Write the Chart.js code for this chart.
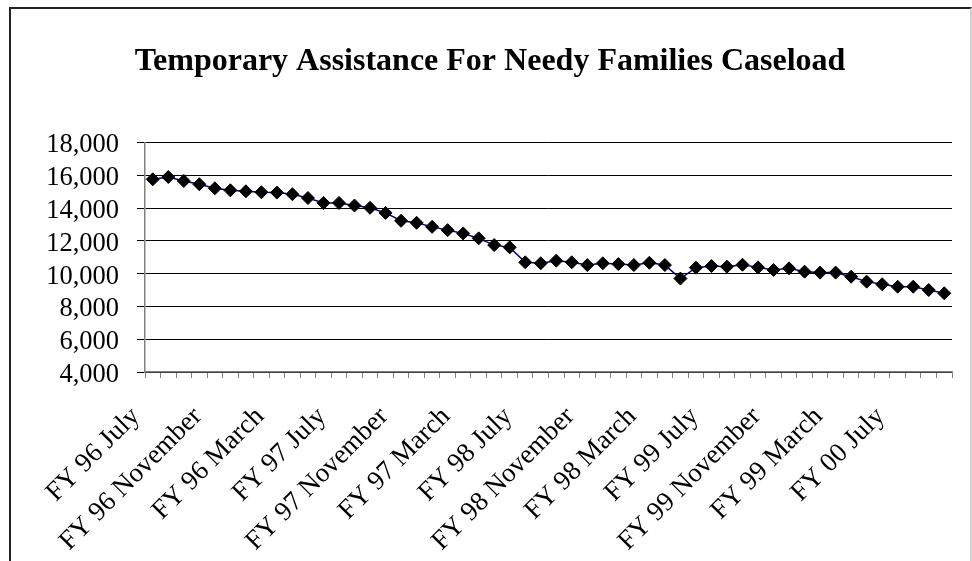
<!DOCTYPE html>
<html>
<head>
<meta charset="utf-8">
<script src="https://cdn.jsdelivr.net/npm/chart.js@4/dist/chart.umd.min.js"></script>
<style>
  html, body { margin: 0; padding: 0; background: #fff; }
  #wrap { position: relative; width: 972px; height: 561px; overflow: hidden; }
  #frame { position: absolute; left: 9px; top: 7px; width: 959px; height: 600px;
           border-left: 2px solid #222; border-top: 2px solid #222; border-right: 2px solid #d0d0d0; }
  #c { position: absolute; left: 0; top: 0; }
</style>
</head>
<body>
<div id="wrap">
  <div id="frame"></div>
  <canvas id="c" width="972" height="561"></canvas>
</div>
<script>
// ---- data ----
const fiscalYears = ['96', '97', '98', '99'];
const months = ['July', 'August', 'September', 'October', 'November', 'December',
                'January', 'February', 'March', 'April', 'May', 'June'];
const finalYear = '00';
const finalMonths = ['July', 'August', 'September', 'October'];

const categories = [];
fiscalYears.forEach(fy => months.forEach(m => categories.push('FY ' + fy + ' ' + m)));
finalMonths.forEach(m => categories.push('FY ' + finalYear + ' ' + m));

const caseload = [
  15750, 15890, 15650, 15450, 15200, 15080, 15020, 14960, 14940, 14840, 14610, 14310,
  14310, 14150, 14010, 13700, 13220, 13100, 12850, 12650, 12450, 12150, 11740, 11600,
  10690, 10630, 10790, 10690, 10520, 10630, 10580, 10520, 10660, 10520, 9700, 10360,
  10460, 10420, 10540, 10380, 10220, 10320, 10120, 10060, 10060, 9810, 9510, 9350,
  9200, 9200, 9000, 8800
];

const yMin = 4000, yMax = 18000, yStep = 2000;
const labelEvery = 4;
const titleText = 'Temporary Assistance For Needy Families Caseload';

const serif = "'Liberation Serif', 'Times New Roman', serif";

new Chart(document.getElementById('c'), {
  type: 'line',
  data: {
    labels: categories,
    datasets: [{
      data: caseload,
      borderColor: '#000080',
      borderWidth: 1.5,
      tension: 0,
      fill: false,
      pointStyle: 'rectRot',
      pointRadius: 6.5,
      pointHoverRadius: 6.5,
      pointBackgroundColor: '#000',
      pointBorderColor: '#000',
      pointBorderWidth: 1
    }]
  },
  options: {
    responsive: false,
    devicePixelRatio: 1,
    animation: false,
    layout: { padding: { left: 28, right: 20, top: 0, bottom: 0 } },
    plugins: {
      legend: { display: false },
      tooltip: { enabled: false },
      title: {
        display: true,
        text: titleText,
        color: '#000',
        font: { family: serif, size: 32, weight: 'bold' },
        padding: { top: 43, bottom: 61 }
      }
    },
    scales: {
      x: {
        type: 'category',
        offset: true,
        grid: { offset: true, drawOnChartArea: false, drawTicks: true, tickLength: 6, color: '#808080', lineWidth: 1 },
        border: { color: '#808080', width: 1.5 },
        ticks: {
          autoSkip: false,
          maxRotation: 45,
          minRotation: 45,
          color: '#000',
          padding: 23,
          labelOffset: -17,
          font: { family: serif, size: 27 },
          callback: function (v, i) { return i % labelEvery === 0 ? categories[i] : ''; }
        },
        afterFit: function (scale) { scale.height = 189; scale.paddingRight = 0; scale.paddingLeft = 0; }
      },
      y: {
        min: yMin,
        max: yMax,
        grid: { color: '#000', lineWidth: 1, drawTicks: true, tickLength: 8 },
        border: { color: '#808080', width: 1.5 },
        ticks: {
          autoSkip: false,
          stepSize: yStep,
          color: '#000',
          padding: 18,
          labelOffset: 3,
          font: { family: serif, size: 26.5 },
          callback: function (v) { return v.toLocaleString('en-US'); }
        },
        afterFit: function (scale) { scale.width = 117; }
      }
    }
  }
});
</script>
</body>
</html>
